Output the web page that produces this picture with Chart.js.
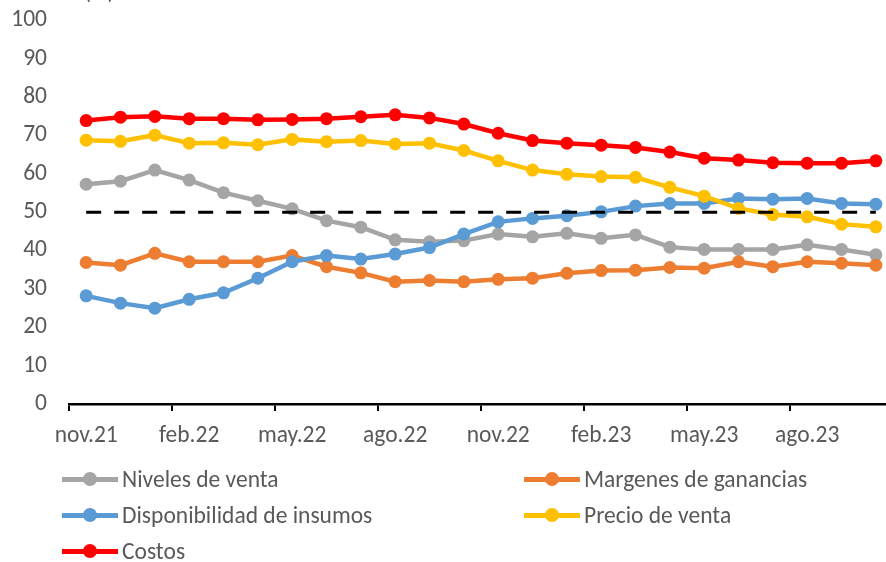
<!DOCTYPE html>
<html>
<head>
<meta charset="utf-8">
<script src="https://cdn.jsdelivr.net/npm/chart.js@4.4.0/dist/chart.umd.min.js"></script>
<style>
  html, body { margin: 0; padding: 0; background: #fff; }
  #wrap { position: relative; width: 886px; height: 562px; overflow: hidden; background: #fff; }
  #chart { position: absolute; left: 0; top: 0; }
  #unit { position: absolute; left: 84px; top: -23px; font: 23px Carlito, Lato, sans-serif; color: #595959; }
  #legend { position: absolute; left: 62px; top: 461px; display: grid; grid-template-columns: 462px 320px; grid-auto-rows: 36px; }
  .item { display: flex; align-items: center; font: 23.5px Carlito, Lato, sans-serif; color: #595959; }
  .swatch { position: relative; width: 56px; height: 16px; margin-right: 4px; }
  .swatch .ln { position: absolute; left: 0; right: 0; top: 6px; height: 4.5px; }
  .swatch .dot { position: absolute; left: 21px; top: 1px; width: 14px; height: 14px; border-radius: 50%; }
</style>
</head>
<body>
<div id="wrap">
  <canvas id="chart" width="910" height="562"></canvas>
  <div id="unit">(%)</div>
  <div id="legend"></div>
</div>
<script>
// Months (nov.21 - oct.23)
const months = ['nov.21', 'dic.21', 'ene.22', 'feb.22', 'mar.22', 'abr.22', 'may.22', 'jun.22',
  'jul.22', 'ago.22', 'sep.22', 'oct.22', 'nov.22', 'dic.22', 'ene.23', 'feb.23',
  'mar.23', 'abr.23', 'may.23', 'jun.23', 'jul.23', 'ago.23', 'sep.23', 'oct.23'];

const nivelesVenta = [57.3, 58.1, 61.0, 58.4, 55.1, 53.0, 50.9, 47.8, 46.1, 42.8, 42.3, 42.6,
  44.3, 43.6, 44.5, 43.2, 44.1, 40.9, 40.3, 40.3, 40.3, 41.5, 40.3, 38.9];
const margenes = [36.9, 36.2, 39.3, 37.1, 37.1, 37.1, 38.7, 35.8, 34.2, 31.9, 32.2, 31.9,
  32.5, 32.8, 34.1, 34.8, 34.9, 35.6, 35.4, 37.1, 35.8, 37.1, 36.7, 36.2];
const disponibilidad = [28.2, 26.3, 25.0, 27.3, 29.0, 32.8, 37.1, 38.7, 37.8, 39.1, 40.8, 44.3,
  47.5, 48.4, 49.1, 50.1, 51.6, 52.3, 52.3, 53.6, 53.4, 53.6, 52.3, 52.1];
const precioVenta = [68.8, 68.5, 70.1, 68.0, 68.1, 67.6, 69.0, 68.4, 68.7, 67.8, 68.0, 66.1,
  63.4, 61.0, 59.9, 59.3, 59.1, 56.5, 54.2, 51.0, 49.4, 48.8, 46.9, 46.2];
const costos = [73.9, 74.8, 75.0, 74.4, 74.4, 74.1, 74.2, 74.4, 74.9, 75.4, 74.6, 73.0,
  70.6, 68.7, 68.0, 67.5, 66.9, 65.7, 64.1, 63.6, 62.9, 62.8, 62.8, 63.4];
const umbral = [50, 50, 50, 50, 50, 50, 50, 50, 50, 50, 50, 50,
  50, 50, 50, 50, 50, 50, 50, 50, 50, 50, 50, 50];

const yTicks = [0, 10, 20, 30, 40, 50, 60, 70, 80, 90, 100];

const font = { family: 'Carlito, Lato, sans-serif', size: 23.5 };
const textColor = '#595959';

function serie(label, data, color, order) {
    return {
        label, data, order,
        borderColor: color,
        backgroundColor: color,
        borderWidth: 4.5,
        pointRadius: 6.5,
        pointHoverRadius: 6.5,
        pointBorderWidth: 0,
        tension: 0
    };
}

const series = [
    serie('Niveles de venta', nivelesVenta, '#A5A5A5', 6),
    serie('Margenes de ganancias', margenes, '#ED7D31', 5),
    serie('Disponibilidad de insumos', disponibilidad, '#5B9BD5', 4),
    serie('Precio de venta', precioVenta, '#FFC000', 3),
    serie('Costos', costos, '#FF0000', 2)
];

const dashed = {
    label: 'umbral', data: umbral, order: 1,
    borderColor: '#000', borderWidth: 3, borderDash: [15, 13],
    pointRadius: 0, tension: 0
};

new Chart(document.getElementById('chart'), {
    type: 'line',
    data: { labels: months, datasets: [...series, dashed] },
    options: {
        responsive: false,
        animation: false,
        devicePixelRatio: 1,
        layout: { padding: { top: 0, right: 17, left: 0, bottom: 0 } },
        plugins: { legend: { display: false }, tooltip: { enabled: false } },
        scales: {
            x: {
                offset: true,
                afterFit: s => { s.height = 158; },
                grid: {
                    offset: true,
                    drawOnChartArea: false,
                    drawTicks: true,
                    tickLength: 7,
                    lineWidth: 2,
                    color: ctx => (ctx.index % 3 === 0 ? '#000' : 'rgba(0,0,0,0)')
                },
                border: { display: true, color: '#000', width: 2.5 },
                ticks: {
                    autoSkip: false,
                    maxRotation: 0,
                    padding: 11,
                    font, color: textColor,
                    callback: function (v, i) { return i % 3 === 0 ? this.getLabelForValue(v) : ''; }
                }
            },
            y: {
                min: yTicks[0],
                max: yTicks[yTicks.length - 1],
                afterFit: s => { s.width = 69; s.paddingTop = 20.5; s.paddingBottom = 0; },
                grid: { display: false, drawTicks: false },
                border: { display: false },
                ticks: { stepSize: 10, padding: 22, font, color: textColor }
            }
        }
    }
});

// Legend in two columns
const legend = document.getElementById('legend');
series.forEach(ds => {
    const item = document.createElement('div');
    item.className = 'item';
    item.innerHTML = `<span class="swatch"><span class="ln" style="background:${ds.borderColor}"></span>` +
        `<span class="dot" style="background:${ds.borderColor}"></span></span>${ds.label}`;
    legend.appendChild(item);
});
</script>
</body>
</html>
